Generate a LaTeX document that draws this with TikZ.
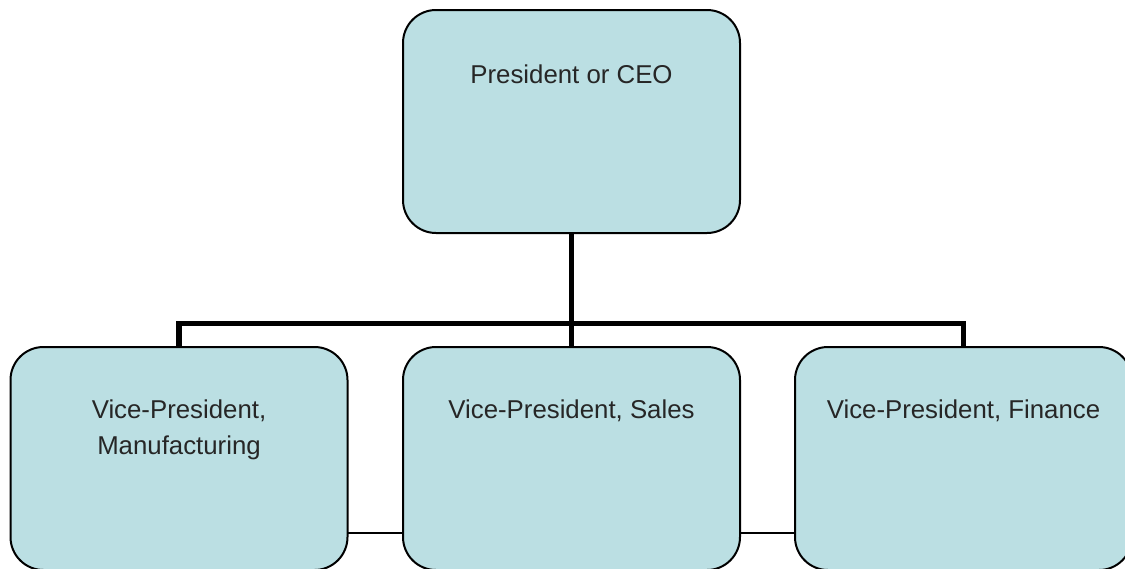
\documentclass[tikz,border=0pt]{standalone}
\usepackage{fontspec}
\setmainfont{Liberation Sans}
\pgfdeclarelayer{background}
\pgfsetlayers{background,main}
\definecolor{boxfill}{HTML}{BBDFE3}
\definecolor{txt}{HTML}{262626}
\begin{document}
\begin{tikzpicture}[x=1pt,y=-1pt,
  orgbox/.style={draw=black, line width=2pt, fill=boxfill, rounded corners=33pt,
    minimum width=337pt, minimum height=223pt, inner sep=0pt, outer sep=0pt},
  boxtext/.style={anchor=base, text=txt, align=center,
    font=\fontsize{25.8pt}{36pt}\selectfont},
  busline/.style={line width=5.5pt, draw=black, line join=miter},
  thinline/.style={line width=2pt, draw=black}]
\useasboundingbox (0,0) rectangle (1125,568);
\clip (0,0) rectangle (1125,568);
% boxes
\node[orgbox] (ceo) at (571.5,121.5) {};
\node[orgbox] (vpm) at (179,458.5) {};
\node[orgbox] (vps) at (571.5,458.5) {};
\node[orgbox] (vpf) at (963.5,458.5) {};
% texts
\node[boxtext] (tceo) at (571.5,83) {President or CEO};
\node[boxtext] (tvpm) at (179,454) {Vice-President,\\Manufacturing};
\node[boxtext] (tvps) at (571.5,418) {Vice-President, Sales};
\node[boxtext] (tvpf) at (963.5,418) {Vice-President, Finance};
% connectors
\coordinate (bus) at (571.5,323.5);
\begin{pgfonlayer}{background}
\draw[busline] (vpm.north) |- (bus) -| (vpf.north);
\draw[busline] (ceo.south) -- (bus) -- (vps.north);
\draw[thinline] ([yshift=37pt]vpm.south east) -- ([yshift=37pt]vps.south west);
\draw[thinline] ([yshift=37pt]vps.south east) -- ([yshift=37pt]vpf.south west);
\end{pgfonlayer}
\end{tikzpicture}
\end{document}
